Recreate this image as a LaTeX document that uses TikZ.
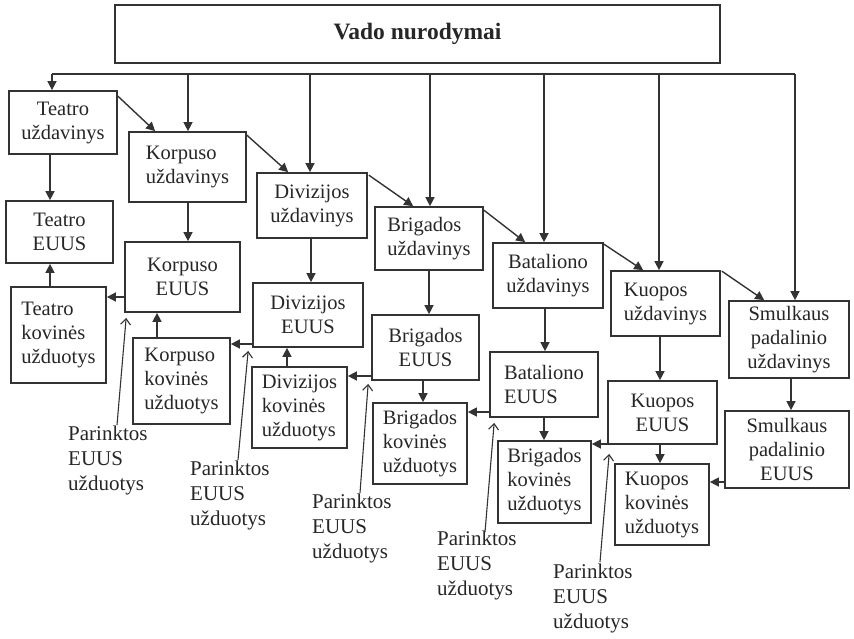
\documentclass[tikz,border=0pt]{standalone}
\usepackage{fontspec}
\setmainfont{Liberation Serif}
\usetikzlibrary{arrows.meta,calc}
\begin{document}
\begin{tikzpicture}[x=1pt,y=-1pt,
  box/.style={draw=black!80, line width=1.7pt, align=center, inner sep=0pt, text=black!85, font=\fontsize{20.5}{24}\selectfont},
  lbox/.style={box, align=left},
  arr/.style={draw=black!80, line width=1.4pt, -{Triangle[length=9pt,width=9pt]}},
  bus/.style={draw=black!80, line width=1.4pt},
  parr/.style={draw=black!80, line width=1.1pt, -{Straight Barb[length=6pt,width=10pt]}},
  lab/.style={align=left, inner sep=0pt, anchor=north west, text=black!85, font=\fontsize{21}{25}\selectfont}
]
\useasboundingbox (0,0) rectangle (854,638);

% boxes
\node[box, font=\fontsize{23.5}{27}\selectfont\bfseries, minimum width=605pt, minimum height=58pt] (top) at (417.5,34) {Vado nurodymai};

\node[box, minimum width=108pt, minimum height=63pt] (tu) at (63,122.5) {Teatro\\uždavinys};
\node[box, minimum width=107pt, minimum height=62pt] (te) at (59.5,232) {Teatro\\EUUS};
\node[lbox, minimum width=95pt, minimum height=96pt] (tk) at (58.5,335) {Teatro\\kovinės\\užduotys};

\node[lbox, minimum width=117pt, minimum height=70pt] (ku) at (187.5,167) {Korpuso\\uždavinys};
\node[box, minimum width=115pt, minimum height=70pt] (ke) at (182.5,277) {Korpuso\\EUUS};
\node[lbox, minimum width=97pt, minimum height=86pt] (kk) at (181.5,381) {Korpuso\\kovinės\\užduotys};

\node[box, minimum width=110pt, minimum height=65pt] (du) at (312,205.5) {Divizijos\\uždavinys};
\node[box, minimum width=110pt, minimum height=64pt] (de) at (308,315) {Divizijos\\EUUS};
\node[lbox, minimum width=95pt, minimum height=81pt] (dk) at (299.5,407.5) {Divizijos\\kovinės\\užduotys};

\node[lbox, minimum width=108pt, minimum height=63pt] (bu) at (429,238.5) {Brigados\\uždavinys};
\node[box, minimum width=107pt, minimum height=65pt] (be) at (425.5,347.5) {Brigados\\EUUS};
\node[lbox, minimum width=94pt, minimum height=81pt] (bk) at (420,443.5) {Brigados\\kovinės\\užduotys};

\node[box, minimum width=110pt, minimum height=65pt] (bau) at (548,275.5) {Bataliono\\uždavinys};
\node[lbox, minimum width=108pt, minimum height=65pt] (bae) at (544,384.5) {Bataliono\\EUUS};
\node[lbox, minimum width=93pt, minimum height=82pt] (bk2) at (544.5,482) {Brigados\\kovinės\\užduotys};

\node[lbox, minimum width=109pt, minimum height=65pt] (kuu) at (665.5,303.5) {Kuopos\\uždavinys};
\node[box, minimum width=109pt, minimum height=63pt] (kue) at (662.5,412.5) {Kuopos\\EUUS};
\node[lbox, minimum width=94pt, minimum height=81pt] (kuk) at (662,504.5) {Kuopos\\kovinės\\užduotys};

\node[box, minimum width=120pt, minimum height=77pt] (su) at (789,339.5) {Smulkaus\\padalinio\\uždavinys};
\node[box, minimum width=124pt, minimum height=77pt] (se) at (787,449.5) {Smulkaus\\padalinio\\EUUS};

% bus
\coordinate (b1) at (52,74);
\coordinate (b2) at (188,74);
\coordinate (b3) at (310,74);
\coordinate (b4) at (430,74);
\coordinate (b5) at (544,74);
\coordinate (b6) at (659,74);
\coordinate (b7) at (795,74);
\draw[bus] (b1) -- (b7);
\draw[arr] (b1) -- (b1 |- tu.north);
\draw[arr] (b2) -- (b2 |- ku.north);
\draw[arr] (b3) -- (b3 |- du.north);
\draw[arr] (b4) -- (b4 |- bu.north);
\draw[arr] (b5) -- (b5 |- bau.north);
\draw[arr] (b6) -- (b6 |- kuu.north);
\draw[arr] (b7) -- (b7 |- su.north);

% diagonal chain
\draw[arr] ($(tu.north east)+(0,6)$) -- ($(ku.north west)+(27,0)$);
\draw[arr] ($(ku.north east)+(0,4)$) -- ($(du.north west)+(32,0)$);
\draw[arr] ($(du.north east)+(1,3)$) -- ($(bu.north west)+(39,0)$);
\draw[arr] ($(bu.north east)+(0,4)$) -- ($(bau.north west)+(33,0)$);
\draw[arr] ($(bau.north east)+(0,2)$) -- ($(kuu.north west)+(33,0)$);
\draw[arr] ($(kuu.north east)+(1,1)$) -- ($(su.north west)+(36,0)$);

% vertical arrows
\coordinate (v1) at (50,0);
\coordinate (v2) at (188,0);
\coordinate (v3) at (311,0);
\coordinate (v4) at (429,0);
\coordinate (v5) at (545,0);
\coordinate (v6) at (660,0);
\coordinate (v7) at (791,0);
\coordinate (v8) at (157,0);
\coordinate (v9) at (287,0);
\coordinate (v10) at (423,0);
\coordinate (v11) at (544,0);
\draw[arr] (tu.south -| v1) -- (te.north -| v1);
\draw[arr] (ku.south -| v2) -- (ke.north -| v2);
\draw[arr] (du.south -| v3) -- (de.north -| v3);
\draw[arr] (bu.south -| v4) -- (be.north -| v4);
\draw[arr] (bau.south -| v5) -- (bae.north -| v5);
\draw[arr] (kuu.south -| v6) -- (kue.north -| v6);
\draw[arr] (su.south -| v7) -- (se.north -| v7);
\draw[arr] (tk.north -| v1) -- (te.south -| v1);
\draw[arr] (kk.north -| v8) -- (ke.south -| v8);
\draw[arr] (dk.north -| v9) -- (de.south -| v9);
\draw[arr] (be.south -| v10) -- (bk.north -| v10);
\draw[arr] (bae.south -| v11) -- (bk2.north -| v11);
\draw[arr] (kue.south -| v6) -- (kuk.north -| v6);

% horizontal arrows
\coordinate (h1) at (0,297);
\coordinate (h2) at (0,344);
\coordinate (h3) at (0,376);
\coordinate (h4) at (0,412);
\coordinate (h5) at (0,444);
\coordinate (h6) at (0,482);
\draw[arr] (ke.west |- h1) -- (tk.east |- h1);
\draw[arr] (de.west |- h2) -- (kk.east |- h2);
\draw[arr] (be.west |- h3) -- (dk.east |- h3);
\draw[arr] (bae.west |- h4) -- (bk.east |- h4);
\draw[arr] (kue.west |- h5) -- (bk2.east |- h5);
\draw[arr] (se.west |- h6) -- (kuk.east |- h6);

% labels
\node[lab] (p1) at (68,426) {Parinktos\\EUUS\\užduotys};
\node[lab] (p2) at (190,461) {Parinktos\\EUUS\\užduotys};
\node[lab] (p3) at (312,494) {Parinktos\\EUUS\\užduotys};
\node[lab] (p4) at (437,531) {Parinktos\\EUUS\\užduotys};
\node[lab] (p5) at (553,564) {Parinktos\\EUUS\\užduotys};
\draw[parr] ($(p1.north west)+(49,-1)$) -- ($(ke.south west)+(2,5)$);
\draw[parr] ($(p2.north west)+(48,-1)$) -- ($(de.south west)+(-4,3)$);
\draw[parr] ($(p3.north west)+(48,-1)$) -- ($(be.south west)+(-3,3)$);
\draw[parr] ($(p4.north west)+(48,1)$) -- ($(bae.south west)+(5,5)$);
\draw[parr] ($(p5.north west)+(47,-2)$) -- ($(kue.south west)+(2,9)$);
\end{tikzpicture}
\end{document}
